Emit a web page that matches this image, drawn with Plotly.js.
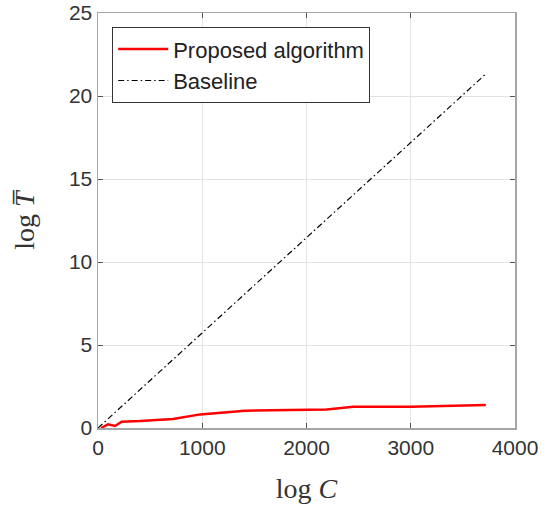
<!DOCTYPE html>
<html>
<head>
<meta charset="utf-8">
<script src="https://cdn.plot.ly/plotly-3.0.1.min.js"></script>
<style>html,body{margin:0;padding:0;background:#fff;}#chart{width:546px;height:510px;}</style>
</head>
<body>
<div id="chart"></div>
<script>
var seriesNames = ["Proposed algorithm", "Baseline"];
var proposedX = [30, 96, 163, 227, 403, 720, 980, 1200, 1410, 2193, 2450, 3000, 3720];
var proposedY = [0.0, 0.22, 0.12, 0.38, 0.42, 0.54, 0.82, 0.94, 1.04, 1.12, 1.28, 1.28, 1.39];
var baselineX = [0, 3715];
var baselineY = [0, 21.3];
var xTicks = [0, 1000, 2000, 3000, 4000];
var yTicks = [0, 5, 10, 15, 20, 25];

var traces = [
  {x: proposedX, y: proposedY, name: seriesNames[0], type: "scatter", mode: "lines",
   line: {color: "#ff0000", width: 2.5}},
  {x: baselineX, y: baselineY, name: seriesNames[1], type: "scatter", mode: "lines",
   line: {color: "#000000", width: 1.2, dash: "6px,3px,1.5px,3px"}}
];

var axisCommon = {
  showgrid: true, gridcolor: "#e3e3e3", gridwidth: 1,
  showline: true, linecolor: "#a6a6a6", linewidth: 1.5, mirror: "ticks",
  ticks: "inside", ticklen: 5, tickcolor: "#555", zeroline: false,
  tickfont: {family: "Liberation Sans, Arial, sans-serif", size: 21, color: "#333"}
};

var layout = {
  width: 546, height: 510,
  margin: {l: 98, r: 31, t: 13, b: 82},
  paper_bgcolor: "#fff", plot_bgcolor: "#fff",
  showlegend: true,
  legend: {x: 0.034, y: 0.966, xanchor: "left", yanchor: "top",
           bgcolor: "#fff", bordercolor: "#333", borderwidth: 1, itemwidth: 50,
           font: {family: "Liberation Sans, Arial, sans-serif", size: 22, color: "#222"}},
  xaxis: Object.assign({}, axisCommon, {
    range: [0, 4000], tickvals: xTicks, ticktext: xTicks.map(String),
    title: {text: "log <i>C</i>", standoff: 20,
            font: {family: "Liberation Serif, Times New Roman, serif", size: 28, color: "#333"}}
  }),
  yaxis: Object.assign({}, axisCommon, {
    range: [0, 25], tickvals: yTicks, ticktext: yTicks.map(String),
    title: {text: "log <i>T\u0305</i>", standoff: 26,
            font: {family: "Liberation Serif, Times New Roman, serif", size: 28, color: "#333"}}
  })
};

Plotly.newPlot("chart", traces, layout, {displayModeBar: false, staticPlot: true});
</script>
</body>
</html>
